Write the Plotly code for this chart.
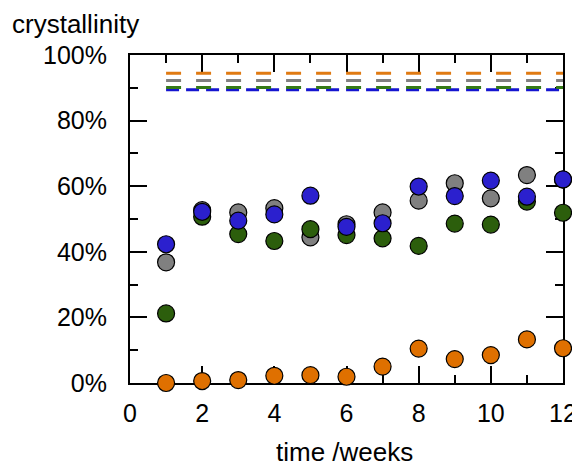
import plotly.graph_objects as go

weeks = [1, 2, 3, 4, 5, 6, 7, 8, 9, 10, 11, 12]
orange_vals = [0.0, 0.6, 0.9, 2.2, 2.4, 1.9, 5.0, 10.5, 7.3, 8.5, 13.3, 10.6]
gray_vals = [36.8, 52.7, 52.0, 53.3, 44.4, 48.4, 52.0, 55.6, 60.9, 56.3, 63.4, 62.0]
green_vals = [21.2, 50.7, 45.4, 43.3, 46.9, 45.1, 44.1, 41.8, 48.6, 48.3, 55.3, 51.9]
blue_vals = [42.3, 52.2, 49.5, 51.4, 57.1, 47.6, 48.7, 59.9, 57.0, 61.7, 56.8, 62.1]

ref_x = [1, 12]
orange_ref = 94.4
gray_ref = 92.2
green_ref = 90.1
blue_ref = 89.4

x_ticks = [0, 2, 4, 6, 8, 10, 12]
y_ticks = [0, 20, 40, 60, 80, 100]
y_tick_labels = ["0%", "20%", "40%", "60%", "80%", "100%"]

marker_colors = {
    "orange": "#DF7000",
    "gray": "#808080",
    "green": "#2C5E0C",
    "blue": "#2B20CE",
}
line_colors = {
    "orange": "#E07A12",
    "gray": "#808080",
    "green": "#357A18",
    "blue": "#1515D0",
}

fig = go.Figure()

# reference dashed lines
for name, lvl, dash in [
    ("orange", orange_ref, "15px,15px"),
    ("gray", gray_ref, "15px,15px"),
    ("blue", blue_ref, "13px,7px"),
    ("green", green_ref, "15px,15px"),
]:
    fig.add_trace(go.Scatter(
        x=ref_x, y=[lvl, lvl], mode="lines",
        line=dict(color=line_colors[name], width=3, dash=dash),
        showlegend=False, hoverinfo="skip",
    ))

for name, vals in [("orange", orange_vals), ("gray", gray_vals),
                   ("green", green_vals), ("blue", blue_vals)]:
    fig.add_trace(go.Scatter(
        x=weeks, y=vals, mode="markers",
        marker=dict(size=17, color=marker_colors[name],
                    line=dict(color="black", width=1.2)),
        showlegend=False, cliponaxis=False,
    ))

tick_font = dict(family="Liberation Sans, Arial, sans-serif", size=25, color="black")
title_font = dict(family="Liberation Sans, Arial, sans-serif", size=26, color="black")

fig.update_layout(
    width=580, height=468,
    margin=dict(l=122, r=25, t=47, b=93),
    paper_bgcolor="white", plot_bgcolor="white",
    font=tick_font,
    xaxis=dict(
        range=[0, 12], tickvals=x_ticks, ticks="inside", ticklen=17,
        tickwidth=2, tickcolor="black", showline=True, linewidth=2,
        linecolor="black", mirror="allticks", showgrid=False, zeroline=False,
        layer="below traces", ticklabelstandoff=7,
        minor=dict(dtick=1, tick0=0, ticks="inside", ticklen=8, tickwidth=2,
                   tickcolor="black", showgrid=False),
        tickfont=tick_font,
    ),
    yaxis=dict(
        range=[0, 100], tickvals=y_ticks, ticktext=y_tick_labels,
        ticks="inside", ticklen=17, tickwidth=2, tickcolor="black",
        showline=True, linewidth=2, linecolor="black", mirror="allticks",
        showgrid=False, zeroline=False, layer="below traces",
        ticklabelstandoff=16,
        minor=dict(dtick=10, tick0=0, ticks="inside", ticklen=8, tickwidth=2,
                   tickcolor="black", showgrid=False),
        tickfont=tick_font,
    ),
    annotations=[
        dict(text="crystallinity", xref="paper", yref="paper",
             x=-0.277, y=1.0, yshift=31, xanchor="left", yanchor="middle",
             showarrow=False, font=title_font),
        dict(text="time /weeks", xref="paper", yref="paper",
             x=0.4965, y=0.0, yshift=-69, xanchor="center", yanchor="middle",
             showarrow=False, font=title_font),
    ],
)

fig.write_html("out.html")
